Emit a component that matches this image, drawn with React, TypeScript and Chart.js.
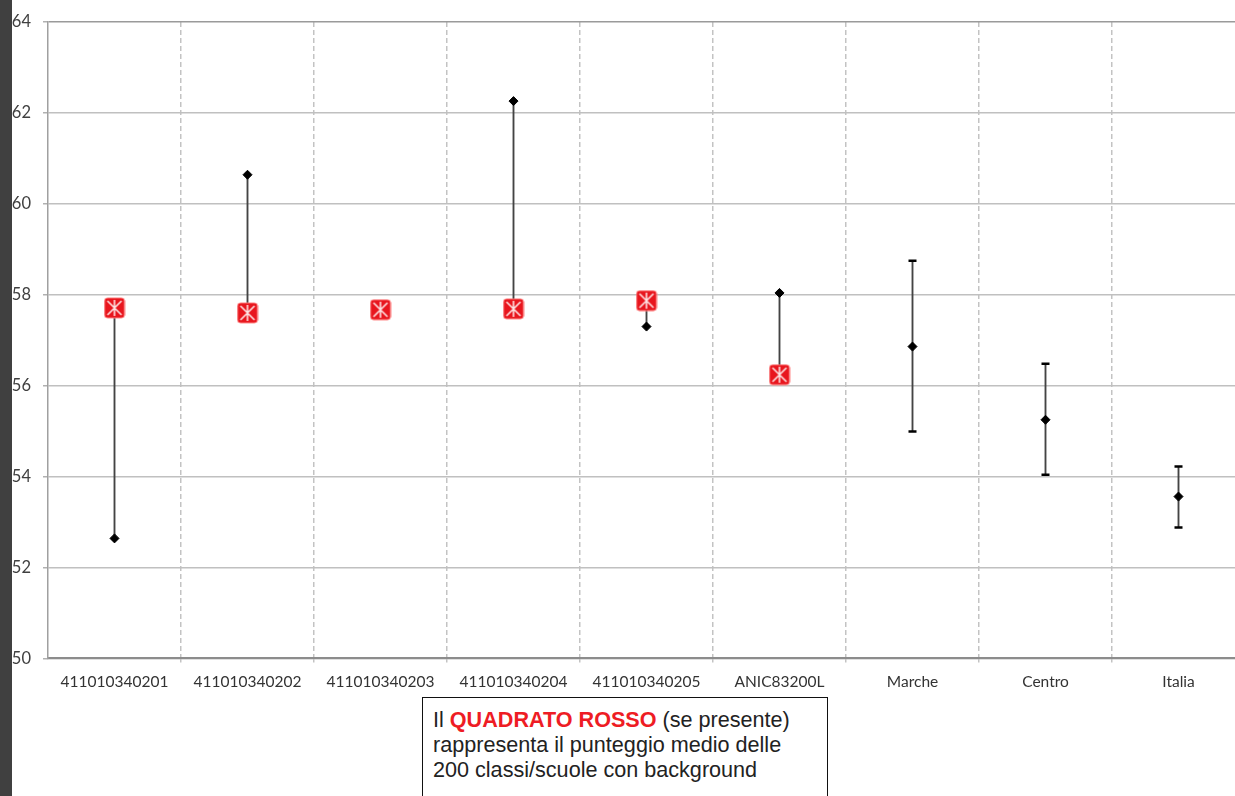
import React, { useEffect, useRef } from 'react';
import { Chart, registerables } from 'chart.js';

Chart.register(...registerables);

const categories = [
  '411010340201',
  '411010340202',
  '411010340203',
  '411010340204',
  '411010340205',
  'ANIC83200L',
  'Marche',
  'Centro',
  'Italia',
];

// punteggio (rombo nero)
const scoreValues: (number | null)[] = [52.64, 60.64, 57.67, 62.26, 57.3, 58.04, 56.86, 55.25, 53.56];
// punteggio medio delle 200 classi/scuole con background (quadrato rosso)
const backgroundMeans: (number | null)[] = [57.71, 57.6, 57.67, 57.69, 57.87, 56.24, null, null, null];
// intervalli (Marche, Centro, Italia)
const upperBounds: (number | null)[] = [null, null, null, null, null, null, 58.75, 56.48, 54.22];
const lowerBounds: (number | null)[] = [null, null, null, null, null, null, 54.99, 54.04, 52.88];

const yMin = 50;
const yMax = 64;
const yStep = 2;

const rangeData = categories.map((_, i) => {
  const s = scoreValues[i];
  const m = backgroundMeans[i];
  if (upperBounds[i] != null && lowerBounds[i] != null) {
    return [lowerBounds[i] as number, upperBounds[i] as number];
  }
  if (s != null && m != null && s !== m) {
    return [Math.min(s, m), Math.max(s, m)];
  }
  return null;
});

function makeRedSquare(): HTMLCanvasElement {
  const c = document.createElement('canvas');
  c.width = 22;
  c.height = 22;
  const g = c.getContext('2d') as CanvasRenderingContext2D;
  g.fillStyle = '#e8161e';
  g.beginPath();
  const r = 3, x = 1, y = 1, w = 20, h = 20;
  g.moveTo(x + r, y);
  g.lineTo(x + w - r, y);
  g.quadraticCurveTo(x + w, y, x + w, y + r);
  g.lineTo(x + w, y + h - r);
  g.quadraticCurveTo(x + w, y + h, x + w - r, y + h);
  g.lineTo(x + r, y + h);
  g.quadraticCurveTo(x, y + h, x, y + h - r);
  g.lineTo(x, y + r);
  g.quadraticCurveTo(x, y, x + r, y);
  g.closePath();
  g.fill();
  g.strokeStyle = 'rgba(255,130,130,0.9)';
  g.lineWidth = 1;
  g.stroke();
  g.strokeStyle = 'rgba(255,238,238,0.95)';
  g.lineWidth = 1.6;
  g.beginPath();
  g.moveTo(4, 4); g.lineTo(18, 18);
  g.moveTo(18, 4); g.lineTo(4, 18);
  g.moveTo(11, 3); g.lineTo(11, 19);
  g.stroke();
  return c;
}

export default function App() {
  const canvasRef = useRef<HTMLCanvasElement | null>(null);

  useEffect(() => {
    const canvas = canvasRef.current;
    if (!canvas) return;
    const redSquare = makeRedSquare();
    const tickFont = { family: 'Lato, "Liberation Sans", sans-serif', size: 15.5 };

    const chart = new Chart(canvas, {
      type: 'bar',
      data: {
        labels: categories,
        datasets: [
          {
            type: 'line',
            label: 'Media background',
            data: backgroundMeans,
            showLine: false,
            pointStyle: redSquare as any,
            pointRadius: 10,
            order: 0,
          } as any,
          {
            type: 'line',
            label: 'Punteggio',
            data: scoreValues,
            showLine: false,
            pointStyle: 'rectRot',
            pointRadius: 4.5,
            pointBackgroundColor: '#000',
            pointBorderColor: '#000',
            pointBorderWidth: 1,
            order: 1,
          } as any,
          {
            type: 'line',
            label: 'Limite superiore',
            data: upperBounds,
            showLine: false,
            pointStyle: 'line',
            pointRadius: 4,
            pointBorderColor: '#000',
            pointBorderWidth: 2.5,
            order: 2,
          } as any,
          {
            type: 'line',
            label: 'Limite inferiore',
            data: lowerBounds,
            showLine: false,
            pointStyle: 'line',
            pointRadius: 4,
            pointBorderColor: '#000',
            pointBorderWidth: 2.5,
            order: 2,
          } as any,
          {
            type: 'bar',
            label: 'Intervallo',
            data: rangeData as any,
            backgroundColor: '#444',
            barThickness: 1.2,
            grouped: false,
            order: 3,
          } as any,
        ],
      },
      options: {
        animation: false,
        responsive: false,
        maintainAspectRatio: false,
        layout: { padding: { left: 12, top: 22, right: 15, bottom: 9 } },
        plugins: {
          legend: { display: false },
          tooltip: { enabled: false },
          title: { display: false },
        },
        scales: {
          x: {
            type: 'category',
            offset: true,
            grid: {
              display: true,
              offset: true,
              color: (ctx: any) => (ctx.index === 0 ? 'rgba(0,0,0,0)' : '#c3c3c3'),
              lineWidth: 1.5,
              drawTicks: true,
              tickLength: 4,
              tickColor: (ctx: any) => (ctx.index === 0 ? 'rgba(0,0,0,0)' : '#c3c3c3'),
              tickBorderDash: [5, 3],
            },
            border: { display: true, color: '#8c8c8c', width: 2, dash: [5, 3] },
            ticks: {
              color: '#333',
              font: tickFont,
              padding: 10,
              maxRotation: 0,
              autoSkip: false,
            },
          },
          y: {
            type: 'linear',
            min: yMin,
            max: yMax,
            afterFit: (scale: any) => {
              scale.width = 36;
            },
            grid: {
              color: (ctx: any) => (ctx.tick && ctx.tick.value === yMax ? '#9a9a9a' : '#c0c0c0'),
              lineWidth: 1.5,
              drawTicks: true,
              tickLength: 5,
              tickColor: '#b0b0b0',
            },
            border: { display: true, color: '#a0a0a0', width: 1.5 },
            ticks: {
              stepSize: yStep,
              color: '#404040',
              font: { family: 'Lato, "Liberation Sans", sans-serif', size: 16.5 },
              padding: 12,
            },
          },
        },
      } as any,
    });

    return () => {
      chart.destroy();
    };
  }, []);

  return (
    <div
      style={{
        position: 'fixed',
        left: 0,
        top: 0,
        width: 1235,
        height: 796,
        overflow: 'hidden',
        background: '#ffffff',
      }}
    >
      <div style={{ position: 'absolute', left: 0, top: 0, width: 1260, height: 710 }}>
        <canvas ref={canvasRef} width={1260} height={710} style={{ display: 'block' }} />
      </div>
      <div
        style={{
          position: 'absolute',
          left: 0,
          top: 0,
          width: 12,
          height: 796,
          background: '#404040',
        }}
      />
      <div
        style={{
          position: 'absolute',
          left: 422,
          top: 697,
          width: 406,
          height: 130,
          boxSizing: 'border-box',
          border: '1.5px solid #111',
          background: '#fff',
          padding: '9px 0 0 10px',
          fontFamily: '"Liberation Sans", Arial, sans-serif',
          fontSize: 21.6,
          lineHeight: '25px',
          color: '#222',
          whiteSpace: 'nowrap',
        }}
      >
        Il <b style={{ color: '#ee1c24' }}>QUADRATO ROSSO</b> (se presente)
        <br />
        rappresenta il punteggio medio delle
        <br />
        200 classi/scuole con background
      </div>
    </div>
  );
}
